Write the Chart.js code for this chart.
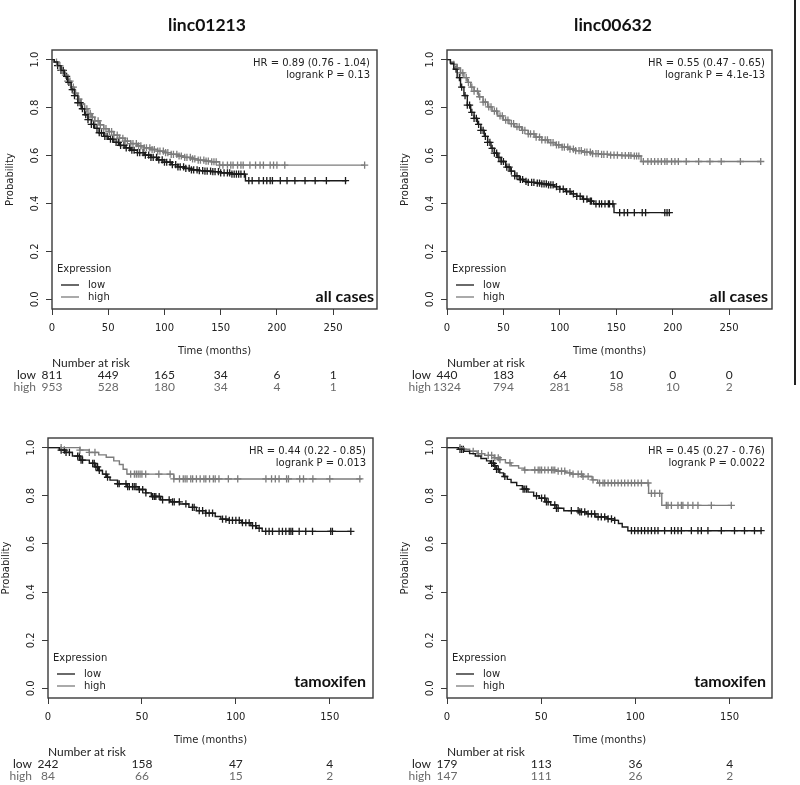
<!DOCTYPE html>
<html><head><meta charset="utf-8">
<script src="https://cdn.jsdelivr.net/npm/chart.js@4.4.1/dist/chart.umd.min.js"></script>
<style>
html,body{margin:0;padding:0;background:#fff;overflow:hidden;width:800px;height:785px;}
canvas{position:absolute;}
#rule{position:absolute;left:794px;top:0;width:2px;height:385px;background:#222;}
</style></head><body>
<canvas id="c1"></canvas><canvas id="c2"></canvas><canvas id="c3"></canvas><canvas id="c4"></canvas>
<div id="rule"></div>
<script>
// ---- tick labels ----
const xTicksAll = [0, 50, 100, 150, 200, 250];
const xTicksTam = [0, 50, 100, 150];
const yTicks = [0, 0.2, 0.4, 0.6, 0.8, 1.0];

// ---- panel 1: linc01213, all cases ----
const p1LowT  = [0,2,5,8,11,14,17,20,23,26,29,32,35,38,42,46,50,55,60,65,70,76,82,88,94,100,106,112,118,124,130,136,142,150,160,172,262];
const p1LowS  = [1.0,0.99,0.975,0.955,0.93,0.905,0.875,0.85,0.82,0.795,0.77,0.75,0.73,0.713,0.695,0.68,0.668,0.655,0.642,0.632,0.622,0.612,0.602,0.592,0.582,0.572,0.562,0.553,0.546,0.54,0.537,0.535,0.533,0.528,0.522,0.495,0.495];
const p1LowC  = [5,8,10,13,15,18,20,23,25,27,30,32,35,37,40,42,44,47,49,52,54,57,59,61,64,66,69,71,73,76,78,81,83,86,88,90,93,95,98,100,102,105,107,110,112,114,117,119,122,124,126,129,131,134,136,138,141,143,145,148,150,153,156,158,160,162,164,166,168,171,175,178,184,188,191,194,196,203,209,216,225,234,244,261];
const p1HighT = [0,2,5,8,11,14,17,20,23,26,29,32,35,38,42,46,50,55,60,65,70,76,82,88,94,100,106,112,118,124,130,136,142,149,278];
const p1HighS = [1.0,0.99,0.975,0.955,0.935,0.91,0.885,0.86,0.835,0.815,0.795,0.775,0.76,0.745,0.728,0.712,0.70,0.685,0.672,0.66,0.65,0.64,0.632,0.625,0.618,0.612,0.605,0.598,0.592,0.586,0.581,0.577,0.574,0.56,0.56];
const p1HighC = [4,7,9,12,14,16,19,21,24,26,29,31,34,36,38,41,43,46,48,51,53,55,58,60,63,65,67,70,72,75,77,79,82,84,87,89,91,94,96,99,101,103,106,108,111,113,115,118,120,123,125,127,130,132,135,137,139,142,144,146,149,152,156,159,161,165,168,170,176,181,185,188,194,197,200,207,278];
const p1RiskLow  = [811, 449, 165, 34, 6, 1];
const p1RiskHigh = [953, 528, 180, 34, 4, 1];

// ---- panel 2: linc00632, all cases ----
const p2LowT  = [0,3,6,9,12,15,18,21,24,27,30,33,36,39,42,45,48,52,56,60,64,68,72,78,84,90,95,100,105,110,115,120,125,130,148,197];
const p2LowS  = [1.0,0.985,0.96,0.925,0.885,0.85,0.81,0.78,0.755,0.73,0.705,0.68,0.655,0.63,0.61,0.592,0.575,0.552,0.535,0.515,0.5,0.492,0.488,0.485,0.482,0.478,0.47,0.46,0.45,0.44,0.43,0.418,0.41,0.398,0.362,0.362];
const p2LowC  = [8,11,13,16,18,20,22,24,26,28,30,32,34,36,38,40,42,44,46,48,50,53,55,57,60,62,65,67,70,72,75,77,80,82,84,86,88,90,92,94,97,100,103,106,109,112,115,118,121,124,127,128,132,135,137,140,143,144,147,153,157,160,166,173,176,193,195,197];
const p2HighT = [0,3,6,9,12,15,18,21,24,28,32,36,40,45,50,55,60,66,72,78,84,90,96,102,108,114,120,128,136,145,155,165,172,278];
const p2HighS = [1.0,0.99,0.98,0.965,0.945,0.925,0.905,0.885,0.868,0.845,0.823,0.803,0.785,0.765,0.748,0.733,0.72,0.705,0.69,0.677,0.665,0.654,0.644,0.635,0.627,0.62,0.614,0.608,0.605,0.602,0.6,0.598,0.575,0.575];
const p2HighC = [6,9,12,14,17,19,22,24,27,29,32,34,37,39,42,44,47,49,52,54,57,59,62,64,67,69,72,74,77,79,82,84,87,89,92,94,97,99,102,104,107,109,112,114,117,119,122,124,127,129,132,134,137,139,142,145,148,151,155,158,161,163,166,168,170,174,178,181,184,187,190,193,195,199,202,205,212,223,233,243,260,278];
const p2RiskLow  = [440, 183, 64, 10, 0, 0];
const p2RiskHigh = [1324, 794, 281, 58, 10, 2];

// ---- panel 3: linc01213, tamoxifen ----
const p3LowT  = [0,6,9,13,17,22,25,27,29,31,33,37,42,48,52,55,60,65,70,75,79,84,89,92,96,103,108,111,114,161];
const p3LowS  = [1.0,0.99,0.98,0.965,0.948,0.935,0.92,0.905,0.89,0.877,0.865,0.85,0.838,0.826,0.812,0.797,0.783,0.775,0.766,0.752,0.738,0.728,0.714,0.703,0.698,0.688,0.676,0.665,0.652,0.652];
const p3LowC  = [7,8.7,9.6,11.4,15.8,16.7,17.6,18.4,23.8,24.6,25.5,26.4,27.3,30.9,31.7,37.1,37.9,41.5,42.4,43.3,45,45.9,46.8,48.6,50.4,52.1,55.7,56.6,57.4,59.2,61,64.5,66.3,67.2,69.9,73.4,76.9,77.8,80.5,82.3,84,85.8,87.6,92.9,94.7,96.5,98.2,100,101.8,103.5,105.3,107.1,108.9,110.6,112.4,115.9,117.7,119.5,123,124.8,126.6,128.4,129.3,130.2,133.7,137.2,140.8,150.5,151.4,161.2];
const p3HighT = [0,17,22,27,31,35,38,40,42,67,167];
const p3HighS = [1.0,0.99,0.98,0.97,0.96,0.945,0.93,0.91,0.89,0.87,0.87];
const p3HighC = [7,17,22,25,44,46,47,48,49,50,52,59,65,67,70,72,73,74,76,77,79,81,83,84,86,88,89,91,96,101,116,119,121,123,127,128,134,136,141,150,166];
const p3RiskLow  = [242, 158, 47, 4];
const p3RiskHigh = [84, 66, 15, 2];

// ---- panel 4: linc00632, tamoxifen ----
const p4LowT  = [0,6,9,12,15,18,21,23,25,26,28,30,32,34,37,40,43,46,49,52,55,58,62,70,74,79,85,89,91,93,96,167];
const p4LowS  = [1.0,0.993,0.985,0.975,0.965,0.955,0.945,0.935,0.925,0.91,0.895,0.88,0.868,0.855,0.842,0.828,0.815,0.8,0.79,0.775,0.762,0.748,0.738,0.733,0.725,0.712,0.704,0.698,0.685,0.67,0.655,0.655];
const p4LowC  = [6.9,7.8,8.7,23.7,24.6,25.4,26.3,27.2,30.7,40.4,41.3,42.2,47.5,50.2,51.9,52.8,53.7,57.2,58.1,59,66,69.6,70.5,71.4,73.1,74.9,76.7,78.4,80.2,81.9,83.7,85.5,87.3,89,97.9,99.6,101.4,103.2,104.9,106.7,108.5,110.3,112,115.5,119.1,120.8,122.6,124.4,129.7,133.2,135,138.5,145.6,152.6,157.9,163.2,166.7];
const p4HighT = [0,9,12,16,20,25,28,31,34,38,41,58,63,66,72,77,80,107,114,151];
const p4HighS = [1.0,0.993,0.985,0.975,0.968,0.958,0.95,0.937,0.925,0.915,0.907,0.902,0.895,0.89,0.88,0.866,0.853,0.81,0.76,0.76];
const p4HighC = [6.9,13.9,16.6,18.4,21.9,23.7,25.4,27.2,28.1,33.4,41.3,46.6,48.4,49.3,50.2,51.9,53.7,55.5,56.3,57.2,59,60.8,62.5,65.2,66.9,69.6,71.4,72.2,74.9,77.5,81,82.8,83.7,85.5,87.3,89,90.8,92.6,94.3,96.1,97.9,99.6,101.4,103.2,106.7,108.5,110.3,112.9,116.4,117.3,119.1,122.6,124.4,125.2,127.9,130.5,133.2,140.3,150.9];
const p4RiskLow  = [179, 113, 36, 4];
const p4RiskHigh = [147, 111, 26, 2];

// ---- styling ----
const LOW = '#1a1a1a', HIGH = '#7c7c7c', TXT = '#222';
Chart.defaults.font.family = "'DejaVu Sans', sans-serif";
Chart.defaults.font.size = 10;
Chart.defaults.color = TXT;

function steps(T, S) { return T.map((t, i) => ({x: t, y: S[i]})); }
function censors(T, S, C) {
  return C.map(c => { let k = 0; for (let i = 0; i < T.length; i++) if (T[i] <= c) k = i; return {x: c, y: S[k]}; });
}

const kmDecor = {
  id: 'kmDecor',
  afterDraw(chart, args, o) {
    const ctx = chart.ctx, a = chart.chartArea, xs = chart.scales.x;
    ctx.save();
    ctx.strokeStyle = '#3a3a3a'; ctx.lineWidth = 1.4;
    ctx.strokeRect(a.left, a.top, a.right - a.left, a.bottom - a.top);
    ctx.fillStyle = TXT; ctx.textBaseline = 'middle';
    if (o.title) {
      ctx.font = "bold 17.5px Lato, 'Open Sans', sans-serif"; ctx.textAlign = 'center'; ctx.fillStyle = '#111';
      ctx.fillText(o.title, a.left + o.titleDx, a.top - 25);
    }
    ctx.fillStyle = TXT;
    ctx.font = "10px 'DejaVu Sans', sans-serif"; ctx.textAlign = 'right';
    ctx.fillText(o.hr, a.right - 7, a.top + 13);
    ctx.fillText(o.p, a.right - 7, a.top + 25);
    // legend
    ctx.textAlign = 'left';
    ctx.fillText('Expression', a.left + 5, a.bottom - 40);
    [['low', LOW, 24], ['high', HIGH, 12]].forEach(([lab, col, dy]) => {
      ctx.strokeStyle = col; ctx.lineWidth = 1.3;
      ctx.beginPath(); ctx.moveTo(a.left + 9, a.bottom - dy); ctx.lineTo(a.left + 27, a.bottom - dy); ctx.stroke();
      ctx.fillStyle = TXT; ctx.fillText(lab, a.left + 36, a.bottom - dy);
    });
    // tag
    ctx.font = "bold 16px Lato, 'Open Sans', sans-serif"; ctx.textAlign = 'right'; ctx.fillStyle = '#111';
    ctx.fillText(o.tag, a.right - o.tagDx, a.bottom - o.tagDy);
    // number at risk
    ctx.font = "12px Lato, 'Open Sans', sans-serif"; ctx.textAlign = 'left'; ctx.fillStyle = TXT;
    ctx.fillText('Number at risk', a.left, a.bottom + 54);
    ctx.textAlign = 'right';
    ctx.fillText('low', a.left - 16, a.bottom + 66);
    ctx.fillStyle = '#6a6a6a';
    ctx.fillText('high', a.left - 16, a.bottom + 78);
    ctx.textAlign = 'center';
    o.riskT.forEach((t, i) => {
      const x = xs.getPixelForValue(t);
      ctx.fillStyle = TXT; ctx.fillText(String(o.riskLow[i]), x, a.bottom + 66);
      ctx.fillStyle = '#6a6a6a'; ctx.fillText(String(o.riskHigh[i]), x, a.bottom + 78);
    });
    ctx.restore();
  }
};

function makeChart(id, cfg) {
  const cv = document.getElementById(id);
  const W = cfg.box[2] - cfg.box[0] + 52 + 23, H = cfg.box[3] - cfg.box[1] + 50 + 86;
  cv.style.left = (cfg.box[0] - 52) + 'px'; cv.style.top = (cfg.box[1] - 50) + 'px';
  cv.width = W; cv.height = H; cv.style.width = W + 'px'; cv.style.height = H + 'px';
  new Chart(cv, {
    type: 'line',
    data: { datasets: [
      {label: 'low', data: steps(cfg.lowT, cfg.lowS), stepped: 'before', borderColor: LOW, borderWidth: 1.4, pointRadius: 0, fill: false},
      {label: 'high', data: steps(cfg.highT, cfg.highS), stepped: 'before', borderColor: HIGH, borderWidth: 1.4, pointRadius: 0, fill: false},
      {label: 'high censored', data: censors(cfg.highT, cfg.highS, cfg.highC), showLine: false, pointStyle: 'cross', pointRadius: 3.6, pointBorderWidth: 1.3, borderColor: HIGH, backgroundColor: HIGH},
      {label: 'low censored', data: censors(cfg.lowT, cfg.lowS, cfg.lowC), showLine: false, pointStyle: 'cross', pointRadius: 3.6, pointBorderWidth: 1.3, borderColor: LOW, backgroundColor: LOW}
    ]},
    options: {
      responsive: false, animation: false,
      layout: {padding: {left: 0, top: 50, right: 23, bottom: 0}},
      scales: {
        x: {type: 'linear', min: 0, max: cfg.xMax,
            afterBuildTicks: s => { s.ticks = cfg.xTicks.map(v => ({value: v})); },
            afterFit: s => { s.height = 86; },
            grid: {display: true, drawOnChartArea: false, drawTicks: true, tickLength: 6, color: '#3a3a3a'},
            border: {display: false},
            ticks: {padding: 7, maxRotation: 0, autoSkip: false, callback: v => String(v)},
            title: {display: true, text: 'Time (months)', padding: {top: 0, bottom: 38}}},
        y: {type: 'linear', min: -0.04, max: 1.04,
            afterBuildTicks: s => { s.ticks = yTicks.map(v => ({value: v})); },
            afterFit: s => { s.width = 52; },
            grid: {display: true, drawOnChartArea: false, drawTicks: true, tickLength: 6, color: '#3a3a3a'},
            border: {display: false},
            ticks: {minRotation: 90, maxRotation: 90, crossAlign: 'center', padding: 3, autoSkip: false, callback: v => Number(v).toFixed(1)},
            title: {display: true, text: 'Probability', padding: {top: 4, bottom: 0}}}
      },
      plugins: {legend: {display: false}, tooltip: {enabled: false},
        kmDecor: {title: cfg.title, titleDx: cfg.titleDx, hr: cfg.hr, p: cfg.p, tag: cfg.tag, tagDx: cfg.tagDx, tagDy: cfg.tagDy,
                  riskT: cfg.xTicks, riskLow: cfg.riskLow, riskHigh: cfg.riskHigh}}
    },
    plugins: [kmDecor]
  });
}

makeChart('c1', {box: [52, 50, 377, 309], xMax: 289, xTicks: xTicksAll, title: 'linc01213', titleDx: 155,
  hr: 'HR = 0.89 (0.76 - 1.04)', p: 'logrank P = 0.13', tag: 'all cases', tagDx: 3, tagDy: 12,
  lowT: p1LowT, lowS: p1LowS, lowC: p1LowC, highT: p1HighT, highS: p1HighS, highC: p1HighC, riskLow: p1RiskLow, riskHigh: p1RiskHigh});
makeChart('c2', {box: [447, 50, 772, 309], xMax: 288, xTicks: xTicksAll, title: 'linc00632', titleDx: 166,
  hr: 'HR = 0.55 (0.47 - 0.65)', p: 'logrank P = 4.1e-13', tag: 'all cases', tagDx: 4, tagDy: 12,
  lowT: p2LowT, lowS: p2LowS, lowC: p2LowC, highT: p2HighT, highS: p2HighS, highC: p2HighC, riskLow: p2RiskLow, riskHigh: p2RiskHigh});
makeChart('c3', {box: [48, 438, 373, 698], xMax: 173, xTicks: xTicksTam, title: '', titleDx: 0,
  hr: 'HR = 0.44 (0.22 - 0.85)', p: 'logrank P = 0.013', tag: 'tamoxifen', tagDx: 7, tagDy: 16,
  lowT: p3LowT, lowS: p3LowS, lowC: p3LowC, highT: p3HighT, highS: p3HighS, highC: p3HighC, riskLow: p3RiskLow, riskHigh: p3RiskHigh});
makeChart('c4', {box: [447, 438, 772, 698], xMax: 172.5, xTicks: xTicksTam, title: '', titleDx: 0,
  hr: 'HR = 0.45 (0.27 - 0.76)', p: 'logrank P = 0.0022', tag: 'tamoxifen', tagDx: 6, tagDy: 16,
  lowT: p4LowT, lowS: p4LowS, lowC: p4LowC, highT: p4HighT, highS: p4HighS, highC: p4HighC, riskLow: p4RiskLow, riskHigh: p4RiskHigh});
</script>
</body></html>
